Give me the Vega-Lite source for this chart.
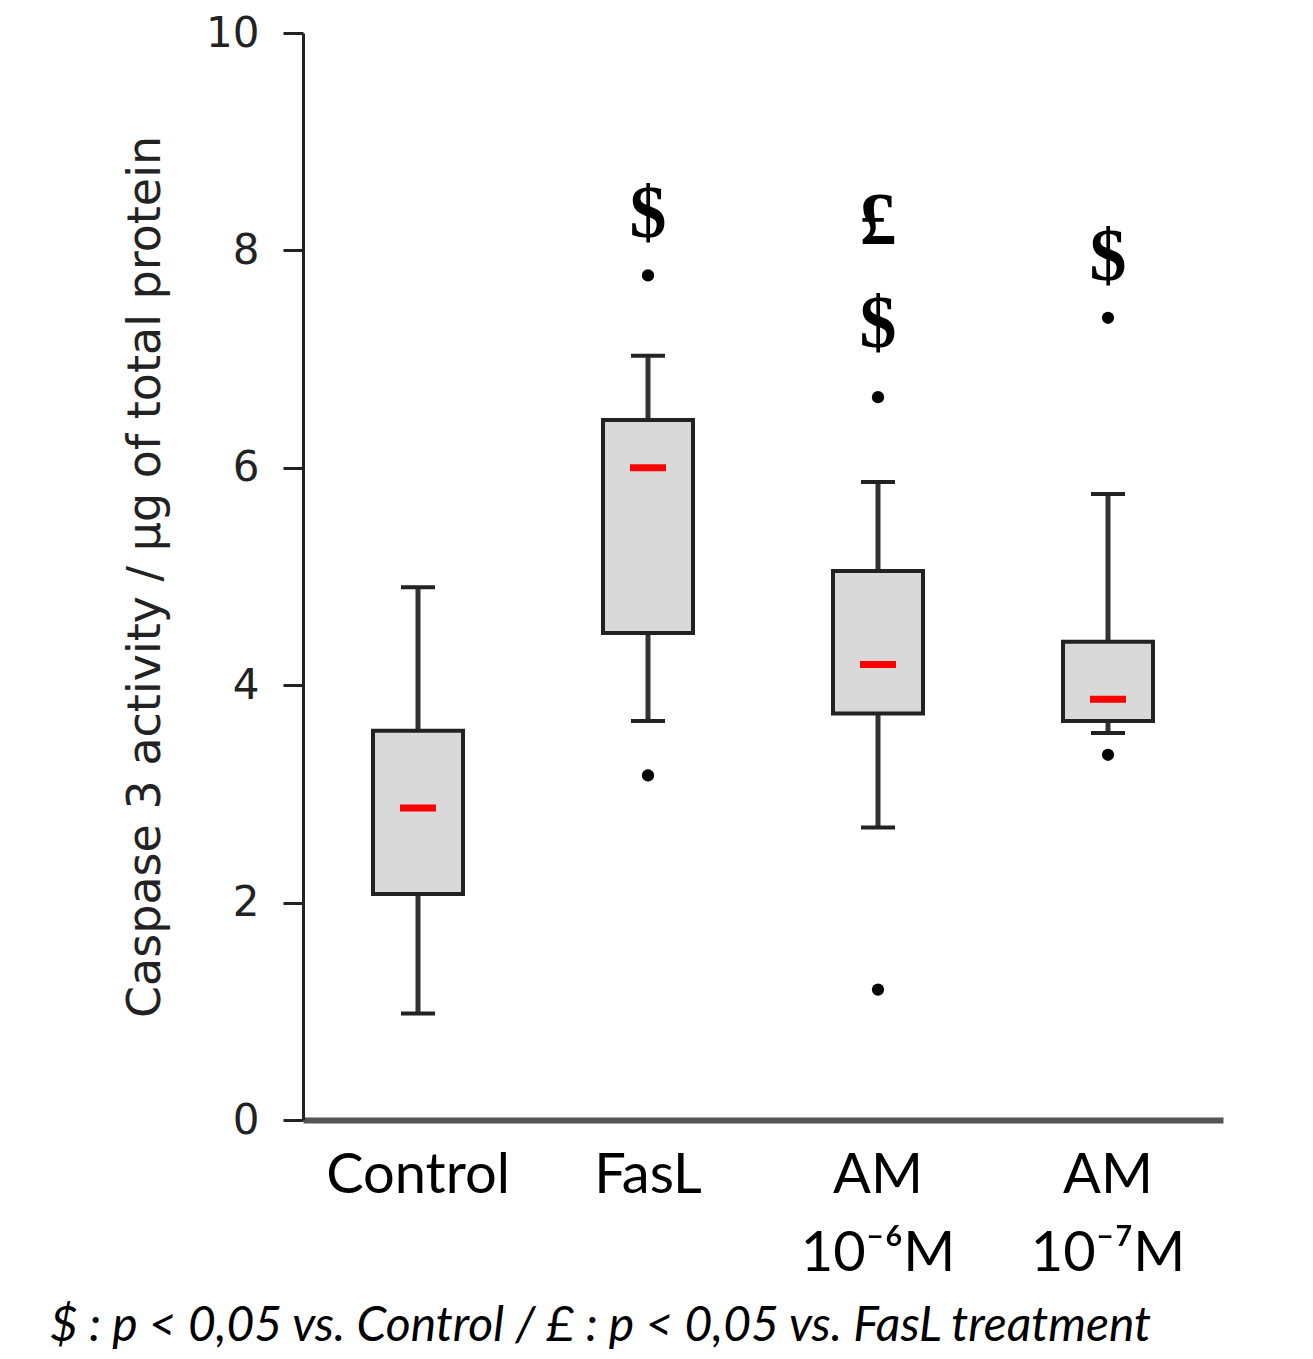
{
  "$schema": "https://vega.github.io/schema/vega-lite/v6.json",
  "width": 920,
  "height": 1087,
  "autosize": {"type": "none"},
  "padding": {"left": 303, "top": 33, "right": 90, "bottom": 239},
  "background": "white",
  "config": {"view": {"stroke": null}},
  "title": {
    "text": "$ : p < 0,05 vs. Control / £ : p < 0,05 vs. FasL treatment",
    "orient": "bottom",
    "anchor": "start",
    "frame": "group",
    "dx": -253,
    "offset": 22,
    "font": "Lato",
    "fontStyle": "italic",
    "fontWeight": "normal",
    "fontSize": 48,
    "color": "black"
  },
  "datasets": {
    "boxes": [
      {"group": "Control", "low": 0.98, "q1": 2.08, "median": 2.87, "q3": 3.58, "high": 4.9},
      {"group": "FasL", "low": 3.67, "q1": 4.48, "median": 6.0, "q3": 6.44, "high": 7.03},
      {"group": "AM 10⁻⁶M", "low": 2.69, "q1": 3.74, "median": 4.19, "q3": 5.05, "high": 5.87},
      {"group": "AM 10⁻⁷M", "low": 3.56, "q1": 3.67, "median": 3.87, "q3": 4.4, "high": 5.76}
    ],
    "outliers": [
      {"group": "FasL", "value": 7.77},
      {"group": "FasL", "value": 3.17},
      {"group": "AM 10⁻⁶M", "value": 6.65},
      {"group": "AM 10⁻⁶M", "value": 1.2},
      {"group": "AM 10⁻⁷M", "value": 7.38},
      {"group": "AM 10⁻⁷M", "value": 3.36}
    ],
    "signif": [
      {"group": "FasL", "y": 8.33, "symbol": "$"},
      {"group": "AM 10⁻⁶M", "y": 8.26, "symbol": "£"},
      {"group": "AM 10⁻⁶M", "y": 7.31, "symbol": "$"},
      {"group": "AM 10⁻⁷M", "y": 7.93, "symbol": "$"}
    ]
  },
  "encoding": {
    "x": {
      "field": "group",
      "type": "nominal",
      "sort": ["Control", "FasL", "AM 10⁻⁶M", "AM 10⁻⁷M"],
      "scale": {"domain": ["Control", "FasL", "AM 10⁻⁶M", "AM 10⁻⁷M"], "paddingInner": 0, "paddingOuter": 0},
      "axis": {
        "title": null,
        "labelAngle": 0,
        "ticks": false,
        "labelLimit": 0,
        "labelExpr": "split(datum.label, ' ')",
        "labelFont": "Lato",
        "labelFontSize": 56,
        "labelColor": "black",
        "labelLineHeight": 78,
        "labelPadding": 28,
        "domainColor": "#555555",
        "domainWidth": 6
      }
    }
  },
  "layer": [
    {
      "data": {"name": "boxes"},
      "mark": {"type": "rule", "color": "#333333", "strokeWidth": 5},
      "encoding": {
        "y": {
          "field": "low",
          "type": "quantitative",
          "scale": {"domain": [0, 10], "nice": false, "zero": true},
          "axis": {
            "title": "Caspase 3 activity / µg of total protein",
            "values": [0, 2, 4, 6, 8, 10],
            "format": "d",
            "grid": false,
            "titleFont": "DejaVu Sans",
            "titleFontSize": 46,
            "titleFontWeight": "normal",
            "titleColor": "#222222",
            "titlePadding": 36,
            "labelFont": "DejaVu Sans",
            "labelFontSize": 42,
            "labelColor": "#222222",
            "labelPadding": 24,
            "tickSize": 20,
            "tickWidth": 3,
            "tickColor": "#222222",
            "domainColor": "#222222",
            "domainWidth": 3
          }
        },
        "y2": {"field": "high"}
      }
    },
    {
      "data": {"name": "boxes"},
      "mark": {"type": "tick", "color": "#222222", "opacity": 1, "size": 34, "thickness": 4},
      "encoding": {"y": {"field": "low", "type": "quantitative"}}
    },
    {
      "data": {"name": "boxes"},
      "mark": {"type": "tick", "color": "#222222", "opacity": 1, "size": 34, "thickness": 4},
      "encoding": {"y": {"field": "high", "type": "quantitative"}}
    },
    {
      "data": {"name": "boxes"},
      "mark": {"type": "bar", "fill": "#d9d9d9", "stroke": "#222222", "strokeWidth": 4, "width": 90},
      "encoding": {
        "y": {"field": "q1", "type": "quantitative"},
        "y2": {"field": "q3"}
      }
    },
    {
      "data": {"name": "boxes"},
      "mark": {"type": "tick", "color": "#ff0000", "opacity": 1, "size": 36, "thickness": 7},
      "encoding": {"y": {"field": "median", "type": "quantitative"}}
    },
    {
      "data": {"name": "outliers"},
      "mark": {"type": "point", "filled": true, "color": "black", "opacity": 1, "size": 150},
      "encoding": {"y": {"field": "value", "type": "quantitative"}}
    },
    {
      "data": {"name": "signif"},
      "mark": {"type": "text", "font": "Liberation Serif", "fontWeight": "bold", "fontSize": 74, "color": "black", "baseline": "middle", "align": "center"},
      "encoding": {
        "y": {"field": "y", "type": "quantitative"},
        "text": {"field": "symbol"}
      }
    }
  ]
}
